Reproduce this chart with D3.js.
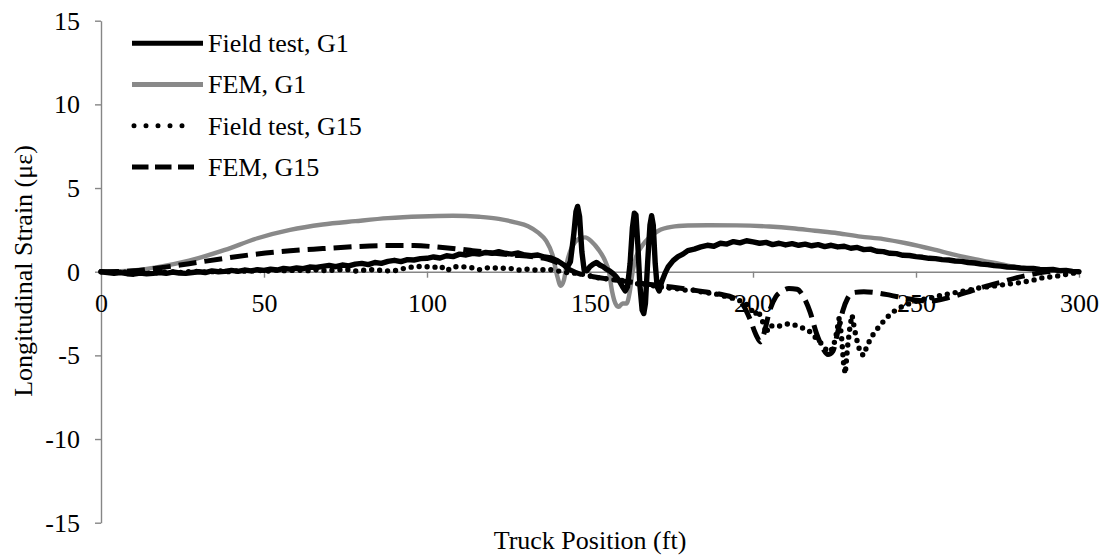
<!DOCTYPE html>
<html>
<head>
<meta charset="utf-8">
<script src="https://cdn.jsdelivr.net/npm/d3@7"></script>
<style>
  body { margin: 0; background: #fff; }
  svg { display: block; }
  svg text { font-family: "Liberation Serif", "Times New Roman", serif; }
</style>
</head>
<body>
<div id="chart"></div>
<script>
// series: [truck position (ft), strain (με)]
var fieldG1 = [[0,0],[2,-0.05],[4,-0.1],[6,-0.05],[8,-0.12],[10,-0.15],[12,-0.08],[14,-0.12],[16,-0.1],[18,-0.05],
  [20,-0.1],[22,-0.02],[24,-0.08],[26,-0.1],[28,-0.05],[30,0],[32,-0.05],[34,0.05],[36,0],[38,0.02],
  [40,0.08],[42,0.02],[44,0.1],[46,0.05],[48,0.12],[50,0.08],[52,0.15],[54,0.1],[56,0.2],[58,0.15],
  [60,0.22],[62,0.18],[64,0.28],[66,0.25],[68,0.32],[70,0.38],[72,0.3],[74,0.4],[76,0.35],[78,0.45],
  [80,0.5],[82,0.42],[84,0.55],[86,0.5],[88,0.62],[90,0.68],[92,0.6],[94,0.72],[96,0.7],[98,0.78],
  [100,0.8],[102,0.88],[104,0.82],[106,0.95],[108,0.9],[110,1.05],[112,1.0],[114,1.1],[116,1.05],[118,1.15],
  [120,1.1],[122,1.2],[124,1.1],[126,1.05],[128,1.12],[130,1.0],[132,0.95],[134,1.0],[136,0.88],[138,0.82],
  [140,0.65],[142,0.4],[143,0.25],[144,0.6],[145,2.2],[145.7,3.6],[146.2,3.9],[146.8,3.3],[147.5,1.2],[148.2,0.1],
  [149,0.05],[150,0.3],[151,0.45],[152,0.55],[153,0.4],[154,0.3],[155,0.15],[156,0.05],[157,-0.1],[158,-0.3],
  [159,-0.55],[160,-0.9],[160.8,-1.15],[161.5,-0.9],[162.3,0.5],[163,2.6],[163.6,3.5],[164.1,3.4],[164.7,1.5],[165.3,-0.8],
  [166,-2.3],[166.5,-2.5],[167,-1.9],[167.7,0.6],[168.4,2.8],[168.9,3.35],[169.4,2.8],[170,0.5],[170.6,-0.9],[171.2,-1.15],
  [172,-0.6],[173,-0.1],[174,0.3],[175.5,0.66],[177,0.9],[178.5,1.05],[180,1.26],[182,1.35],[184,1.48],[186,1.58],
  [188,1.52],[190,1.7],[192,1.65],[194,1.8],[196,1.72],[198,1.85],[200,1.78],[202,1.7],[204,1.75],[206,1.62],
  [208,1.7],[210,1.6],[212,1.68],[214,1.58],[216,1.65],[218,1.55],[220,1.62],[222,1.5],[224,1.58],[226,1.48],
  [228,1.52],[230,1.4],[232,1.45],[234,1.32],[236,1.35],[238,1.22],[240,1.2],[242,1.1],[244,1.08],[246,0.98],
  [248,0.97],[250,0.9],[252,0.86],[254,0.8],[256,0.78],[258,0.72],[260,0.7],[262,0.64],[264,0.62],[266,0.55],
  [268,0.52],[270,0.45],[272,0.42],[274,0.36],[276,0.33],[278,0.28],[280,0.27],[282,0.22],[284,0.2],[286,0.19],
  [288,0.14],[290,0.12],[292,0.13],[294,0.06],[296,0.08],[298,0.02],[300,0]];

var femG1 = [[0,0],[10,0.08],[17,0.26],[27,0.66],[38,1.3],[48,2.0],[58,2.5],[68,2.82],[78,3.02],[88,3.2],
  [98,3.3],[108,3.34],[116,3.28],[122,3.16],[127,2.95],[131,2.72],[134,2.35],[136.5,1.85],[138.5,1.0],[140,-0.3],
  [141,-0.84],[142,-0.5],[143,0.6],[144.5,1.5],[146.5,1.95],[148.5,2.05],[150.5,1.8],[152.5,1.35],[154.5,0.7],[155.8,0],
  [156.8,-1.2],[157.8,-1.9],[158.8,-2.1],[160,-1.9],[161.2,-1.9],[162.2,-1.2],[163,-0.1],[164,0.8],[166,1.55],[168.5,2.1],
  [171,2.45],[175,2.68],[180,2.76],[186,2.78],[195,2.77],[205,2.7],[212,2.6],[219,2.45],[226,2.3],[233,2.1],
  [240,1.95],[247,1.7],[255,1.35],[262,1.0],[268,0.75],[276,0.45],[282,0.22],[287,0.07],[291,0]];

var fieldG15 = [[0,0],[3,-0.05],[6,0],[9,-0.08],[12,-0.03],[15,-0.1],[18,-0.05],[21,0],[24,-0.05],[27,0],
  [30,0.02],[33,-0.03],[36,0.05],[39,0],[42,0.06],[45,0.02],[48,0.08],[51,0.03],[54,0.1],[57,0.05],
  [60,0.1],[63,0.05],[66,0.12],[69,0.06],[72,0.1],[75,0.15],[78,0.04],[81,0.1],[84,0.12],[87,0.05],
  [90,0.05],[93,0.2],[96,0.3],[99,0.32],[102,0.25],[104,0.35],[106,0.05],[108,0.3],[110,0.3],[113,0.28],
  [116,0.12],[119,0.25],[122,0.2],[125,0.22],[128,0.1],[131,0.15],[134,0.08],[137,0.15],[140,0.05],[143,-0.05],
  [146,-0.1],[149,-0.2],[152,-0.35],[155,-0.42],[158,-0.5],[161,-0.55],[164,-0.7],[167,-0.78],[170,-0.85],[173,-0.95],
  [176,-1.0],[179,-1.1],[182,-1.1],[185,-1.25],[188,-1.3],[191,-1.45],[194,-1.6],[197,-1.8],[199,-2.1],[200.5,-2.6],
  [201.5,-2.3],[203,-3.0],[204,-3.7],[205,-3.2],[207,-3.3],[209,-3.2],[211,-3.1],[213,-3.2],[215,-3.35],[217,-3.5],
  [219,-3.9],[221,-4.3],[223,-4.8],[224.5,-4.6],[225.5,-3.8],[226.5,-2.7],[227.2,-4.0],[227.8,-5.5],[228.3,-6.1],[229,-4.5],
  [229.8,-3.2],[230.4,-2.6],[231.2,-3.5],[232,-4.2],[233,-4.9],[234,-5.0],[235,-4.4],[237,-3.7],[239,-3.2],[241,-2.75],
  [243,-2.4],[245,-2.15],[248,-1.9],[251,-1.7],[255,-1.55],[258,-1.4],[262,-1.25],[266,-1.1],[270,-0.95],[274,-0.85],
  [278,-0.75],[282,-0.65],[286,-0.5],[289,-0.35],[292,-0.3],[295,-0.2],[298,-0.1],[300,0]];

var femG15 = [[0,0],[10,0.05],[17,0.2],[27,0.48],[38,0.8],[48,1.06],[58,1.25],[68,1.38],[78,1.5],[88,1.56],
  [96,1.56],[104,1.46],[110,1.35],[114,1.26],[120,1.12],[126,1.0],[132,0.9],[137,0.75],[141,0.45],[144,0.1],
  [147,-0.15],[151,-0.3],[156,-0.45],[160,-0.55],[165,-0.68],[170,-0.8],[175,-0.92],[180,-1.05],[185,-1.2],[190,-1.35],
  [194,-1.55],[197,-2.0],[199,-2.8],[201,-3.8],[202.3,-4.2],[203.5,-3.6],[205,-2.4],[207,-1.5],[209,-1.15],[211,-1.0],
  [213.5,-1.05],[215.5,-1.5],[217.5,-2.4],[219.5,-3.7],[221.5,-4.6],[223,-4.95],[224.5,-4.75],[226,-3.6],[227.6,-2.3],[229,-1.6],
  [230.7,-1.25],[234,-1.2],[237,-1.24],[242,-1.4],[247,-1.6],[251,-1.72],[255,-1.74],[260,-1.55],[265.5,-1.24],[270,-0.95],
  [275.8,-0.64],[281,-0.35],[286,-0.14],[290,0],[292,0.02]];

var xTicks = [0, 50, 100, 150, 200, 250, 300];
var yTicks = [-15, -10, -5, 0, 5, 10, 15];
var legendLabels = ["Field test, G1", "FEM, G1", "Field test, G15", "FEM, G15"];

var width = 1108, height = 556;
var axisGray = "#868686", femGray = "#898989";

var svg = d3.select("#chart").append("svg")
    .attr("width", width)
    .attr("height", height);

svg.append("rect").attr("width", width).attr("height", height).attr("fill", "#fff");

var x = d3.scaleLinear().domain([0, 300]).range([101, 1079]);
var y = d3.scaleLinear().domain([-15, 15]).range([522.7, 20.7]);

// plain hyphen minus like the original, not the unicode minus
var fmt = function(d) { return String(d); };

// y axis
var yAxis = svg.append("g")
    .attr("transform", "translate(" + x(0) + ",0)")
    .call(d3.axisLeft(y).tickValues(yTicks).tickFormat(fmt).tickSize(6).tickSizeOuter(0).tickPadding(15))
    .attr("font-family", null).attr("font-size", 26);
yAxis.select(".domain").attr("stroke", axisGray).attr("stroke-width", 1.4);
yAxis.selectAll(".tick line").attr("stroke", axisGray).attr("stroke-width", 1.4);
yAxis.selectAll(".tick text").attr("fill", "#000");

// x axis at zero strain
var xAxis = svg.append("g")
    .attr("transform", "translate(0," + y(0) + ")")
    .call(d3.axisBottom(x).tickValues(xTicks).tickFormat(fmt).tickSize(6).tickSizeOuter(0).tickPadding(16))
    .attr("font-family", null).attr("font-size", 26);
xAxis.select(".domain").attr("stroke", axisGray).attr("stroke-width", 1.4);
xAxis.selectAll(".tick line").attr("stroke", axisGray).attr("stroke-width", 1.4)
    .filter(function(d) { return d === 0; }).remove();
xAxis.selectAll(".tick text").attr("fill", "#000");

var line = d3.line()
    .x(function(d) { return x(d[0]); })
    .y(function(d) { return y(d[1]); });
var smooth = d3.line()
    .curve(d3.curveMonotoneX)
    .x(function(d) { return x(d[0]); })
    .y(function(d) { return y(d[1]); });

svg.append("path").datum(femG1)
    .attr("d", smooth).attr("fill", "none")
    .attr("stroke", femGray).attr("stroke-width", 4.4)
    .attr("stroke-linejoin", "round").attr("stroke-linecap", "round");

svg.append("path").datum(fieldG1)
    .attr("d", line).attr("fill", "none")
    .attr("stroke", "#000").attr("stroke-width", 5.4)
    .attr("stroke-linejoin", "round").attr("stroke-linecap", "round");

svg.append("path").datum(fieldG15)
    .attr("d", line).attr("fill", "none")
    .attr("stroke", "#000").attr("stroke-width", 5.4)
    .attr("stroke-dasharray", "0 8")
    .attr("stroke-linecap", "round");

svg.append("path").datum(femG15)
    .attr("d", smooth).attr("fill", "none")
    .attr("stroke", "#000").attr("stroke-width", 5)
    .attr("stroke-dasharray", "18 8")
    .attr("stroke-linejoin", "round");

// legend
var legendStyles = [
  {stroke: "#000", dash: null, cap: "butt", x2: 203},
  {stroke: femGray, dash: null, cap: "butt", x2: 203},
  {stroke: "#000", dash: "0 12", cap: "round", x2: 194},
  {stroke: "#000", dash: "16.5 6.5", cap: "butt", x2: 194}
];
var legend = svg.append("g");
legendLabels.forEach(function(label, i) {
  var ly = 43.3 + i * 41.2;
  var s = legendStyles[i];
  legend.append("line")
      .attr("x1", s.cap === "round" ? 134 : 132).attr("x2", s.x2)
      .attr("y1", ly).attr("y2", ly)
      .attr("stroke", s.stroke).attr("stroke-width", 5)
      .attr("stroke-linecap", s.cap)
      .attr("stroke-dasharray", s.dash);
  legend.append("text")
      .attr("x", 208).attr("y", ly).attr("dy", "0.34em")
      .attr("font-size", 26).attr("fill", "#000")
      .text(label);
});

// axis titles
svg.append("text")
    .attr("x", 590).attr("y", 549)
    .attr("text-anchor", "middle").attr("font-size", 26)
    .text("Truck Position (ft)");

svg.append("text")
    .attr("transform", "translate(32,271) rotate(-90)")
    .attr("text-anchor", "middle").attr("font-size", 26)
    .text("Longitudinal Strain (με)");
</script>
</body>
</html>
